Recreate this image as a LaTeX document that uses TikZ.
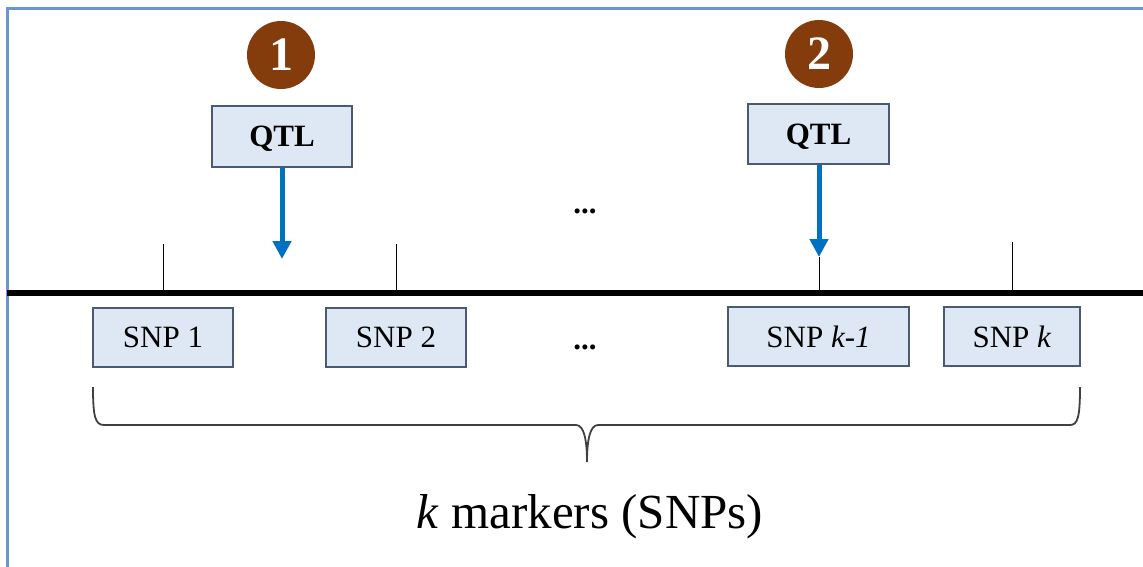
\documentclass[tikz,border=0pt]{standalone}
\usepackage{fontspec}
\setmainfont{Liberation Serif}
\usetikzlibrary{arrows.meta}
\definecolor{framecol}{HTML}{6A96CF}
\definecolor{boxfill}{HTML}{DEE8F4}
\definecolor{boxline}{HTML}{4A5A72}
\definecolor{badge}{HTML}{843C0C}
\definecolor{arrowblue}{HTML}{0070C0}
\tikzset{
  labelbox/.style={draw=boxline, fill=boxfill, line width=2pt, inner sep=0pt},
  badgecirc/.style={circle, fill=badge, text=white, minimum size=68pt, inner sep=0pt,
    font=\fontsize{48}{50}\selectfont\bfseries},
  qtlarrow/.style={draw=arrowblue, line width=5pt, -{Triangle[width=18pt,length=18pt]}},
  tickline/.style={draw=black, line width=1pt},
  axisline/.style={draw=black, line width=6pt},
  bracepath/.style={draw=black!75, line width=1.8pt},
  sz31/.style={font=\fontsize{31}{36}\selectfont},
}
\begin{document}
\begin{tikzpicture}[x=1pt,y=-1pt]
\useasboundingbox (0,0) rectangle (1143,566);
% outer frame
\draw[framecol, line width=3pt] (7,570) -- (7,8) -- (1146,8);

% badges and QTL boxes
\node[badgecirc] (c1) at (281,55) {1};
\node[badgecirc] (c2) at (819,54) {2};
\node[labelbox, sz31, text depth=0pt, minimum width=140pt, minimum height=61pt] (q1) at (282,136.5) {\textbf{QTL}};
\node[labelbox, sz31, text depth=0pt, minimum width=141pt, minimum height=60pt] (q2) at (818.5,134) {\textbf{QTL}};

% chromosome axis and ticks
\coordinate (L) at (7,292.5);
\coordinate (R) at (1146,292.5);
\coordinate (t1) at (163,244);
\coordinate (t2) at (396,244);
\coordinate (t3) at (819,257);
\coordinate (t4) at (1012,242);
\coordinate (b1) at (163,292);
\coordinate (b2) at (396,292);
\coordinate (b3) at (819,292);
\coordinate (b4) at (1012,292);
\draw[tickline] (t1) -- (b1);
\draw[tickline] (t2) -- (b2);
\draw[tickline] (t3) -- (b3);
\draw[tickline] (t4) -- (b4);
\draw[axisline] (L) -- (R);

% QTL arrows
\coordinate (a1) at (282,259);
\draw[qtlarrow] (q1.south) -- (a1);
\draw[qtlarrow] (q2.south -| t3) -- (t3);

% ellipses
\node[sz31] (d1) at (585,211) {\textbf{...}};
\node[sz31] (d2) at (585,347) {\textbf{...}};

% SNP boxes
\node[labelbox, sz31, minimum width=140pt, minimum height=59pt] (s1) at (163,337.5) {SNP 1};
\node[labelbox, sz31, minimum width=140pt, minimum height=59pt] (s2) at (396,337.5) {SNP 2};
\node[labelbox, sz31, minimum width=181pt, minimum height=59pt] (s3) at (818.5,336.5) {SNP \textit{k-1}};
\node[labelbox, sz31, minimum width=136pt, minimum height=59pt] (s4) at (1012,336.5) {SNP \textit{k}};

% brace under the markers
\coordinate (bl) at (93,387);
\coordinate (br) at (1080,387);
\coordinate (bt) at (587,462);
\draw[bracepath] (bl) .. controls (93,416) and (95,425) .. (104,425) -- (576,425)
  .. controls (584,425) and (587,440) .. (bt)
  .. controls (587,440) and (590,425) .. (598,425) -- (1070,425)
  .. controls (1078,425) and (1080,416) .. (br);

\node[font=\fontsize{49}{54}\selectfont] (cap) at (590,517) {\textit{k} markers (SNPs)};
\end{tikzpicture}
\end{document}
